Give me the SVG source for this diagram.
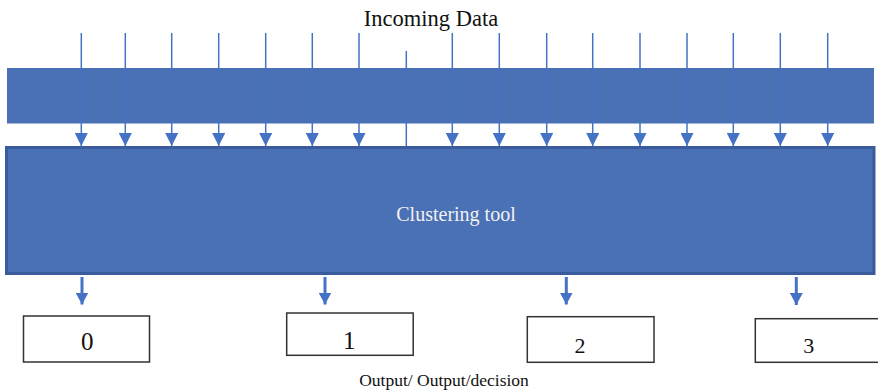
<svg xmlns="http://www.w3.org/2000/svg" width="878" height="391" viewBox="0 0 878 391">
<style>
.t{font-family:"Liberation Serif","Times New Roman",serif;fill:#111;text-anchor:middle}
.in{stroke:#4472C4;stroke-width:1.5;fill:none}
.out{stroke:#4472C4;stroke-width:3;fill:none}
.box{fill:#fff;stroke:#333;stroke-width:1.5}
</style>
<defs>
<marker id="ah" markerUnits="userSpaceOnUse" markerWidth="14" markerHeight="13" refX="14" refY="7" orient="auto" viewBox="0 0 14 14">
<path d="M0,0 L14,7 L0,14 Z" fill="#4472C4"/>
</marker>
<marker id="ah2" markerUnits="userSpaceOnUse" markerWidth="12" markerHeight="13" refX="12" refY="6.5" orient="auto" viewBox="0 0 12 13">
<path d="M0,0 L12,6.5 L0,13 Z" fill="#4472C4"/>
</marker>
</defs>
<rect width="878" height="391" fill="#fff"/>
<text class="t" x="431" y="26" font-size="22.5">Incoming Data</text>
<g id="input-bar"><rect x="7" y="68" width="867" height="55.5" fill="#4A70B5"/></g>
<g id="connectors">
<line class="in" x1="81.3" y1="33" x2="81.3" y2="146" marker-end="url(#ah)"/>
<line class="in" x1="125.3" y1="33" x2="125.3" y2="146" marker-end="url(#ah)"/>
<line class="in" x1="171.7" y1="33" x2="171.7" y2="146" marker-end="url(#ah)"/>
<line class="in" x1="218.7" y1="33" x2="218.7" y2="146" marker-end="url(#ah)"/>
<line class="in" x1="265.7" y1="33" x2="265.7" y2="146" marker-end="url(#ah)"/>
<line class="in" x1="312.3" y1="33" x2="312.3" y2="146" marker-end="url(#ah)"/>
<line class="in" x1="359" y1="33" x2="359" y2="146" marker-end="url(#ah)"/>
<line class="in" x1="406.3" y1="51" x2="406.3" y2="146"/>
<line class="in" x1="452.3" y1="33" x2="452.3" y2="146" marker-end="url(#ah)"/>
<line class="in" x1="499.3" y1="33" x2="499.3" y2="146" marker-end="url(#ah)"/>
<line class="in" x1="546.7" y1="33" x2="546.7" y2="146" marker-end="url(#ah)"/>
<line class="in" x1="592.7" y1="33" x2="592.7" y2="146" marker-end="url(#ah)"/>
<line class="in" x1="640" y1="33" x2="640" y2="146" marker-end="url(#ah)"/>
<line class="in" x1="687" y1="33" x2="687" y2="146" marker-end="url(#ah)"/>
<line class="in" x1="733.3" y1="33" x2="733.3" y2="146" marker-end="url(#ah)"/>
<line class="in" x1="780.3" y1="33" x2="780.3" y2="146" marker-end="url(#ah)"/>
<line class="in" x1="827.7" y1="33" x2="827.7" y2="146" marker-end="url(#ah)"/>
<line class="out" x1="82" y1="277" x2="82" y2="304.5" marker-end="url(#ah2)"/>
<line class="out" x1="325" y1="277" x2="325" y2="304.5" marker-end="url(#ah2)"/>
<line class="out" x1="566.3" y1="277" x2="566.3" y2="304.5" marker-end="url(#ah2)"/>
<line class="out" x1="796.3" y1="277" x2="796.3" y2="305" marker-end="url(#ah2)"/>
</g>
<g id="clustering-tool">
<rect x="6.5" y="147.5" width="867.5" height="126" fill="#4A70B5" stroke="#3A5C9C" stroke-width="3"/>
<text x="456" y="221" font-size="20" font-family="Liberation Serif,serif" fill="#F2F2F2" text-anchor="middle">Clustering tool</text>
</g>
<g id="out0"><rect class="box" x="23.5" y="316" width="126" height="46"/><text class="t" x="87.3" y="350.3" font-size="25">0</text></g>
<g id="out1"><rect class="box" x="286.7" y="313" width="126.5" height="42.3"/><text class="t" x="349.3" y="348.7" font-size="25">1</text></g>
<g id="out2"><rect class="box" x="527.3" y="316.7" width="126.7" height="45.6"/><text class="t" x="580" y="352.7" font-size="22">2</text></g>
<g id="out3"><rect class="box" x="755.3" y="318.7" width="130" height="43.6"/><text class="t" x="808.7" y="353.3" font-size="22">3</text></g>
<text class="t" x="444" y="386" font-size="17.5">Output/ Output/decision</text>
</svg>
